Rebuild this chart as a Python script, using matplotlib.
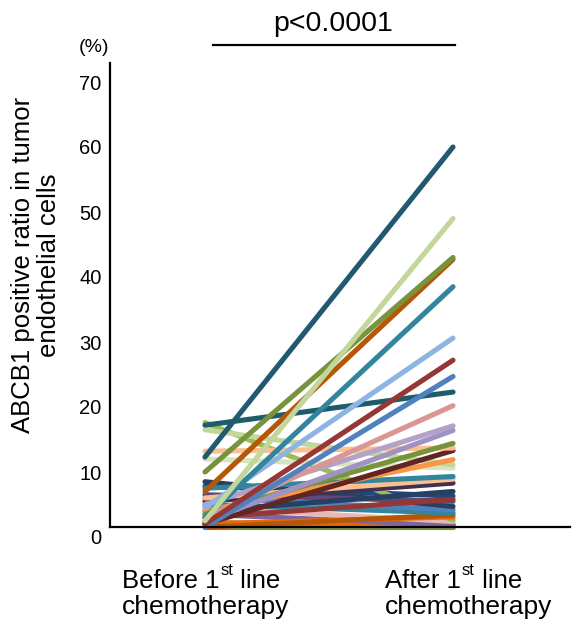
import matplotlib
matplotlib.use("Agg")
import matplotlib.pyplot as plt
from matplotlib.lines import Line2D

plt.rcParams['font.family'] = ['Liberation Sans', 'DejaVu Sans']

# Paired ABCB1 positive ratios (%) per patient
before = [1.5, 2.2, 1.6, 1.8, 4.8, 7.8, 3.5, 4.5, 17.6, 2.0, 1.5, 5.0,
          6.0, 8.5, 6.5, 3.0, 4.0, 5.5, 6.0, 7.5, 12.0, 16.5, 4.0, 2.0,
          13.2, 3.5, 2.5, 5.0, 3.0, 17.2, 1.5, 2.0, 4.5, 3.0, 7.0, 10.0,
          2.5, 12.3]
after = [1.5, 1.8, 2.8, 2.0, 4.0, 6.3, 1.8, 2.4, 2.6, 3.1, 3.4, 3.7,
         4.2, 4.7, 5.5, 5.8, 7.0, 8.3, 8.9, 9.3, 10.6, 11.1, 11.9, 13.3,
         13.7, 14.4, 16.4, 17.1, 20.2, 22.3, 24.7, 27.2, 30.6, 38.5, 42.7,
         43.0, 49.0, 60.0]
colors = ['#77933c', '#b65708', '#93cddd', '#e46c0a', '#e6b9b8', '#1f497d',
          '#8064a2', '#e6b9b8', '#9bbb59', '#e46c0a', '#b65708', '#31859c',
          '#4f81bd', '#254061', '#5f497a', '#953735', '#254061', '#403152',
          '#fac090', '#31859c', '#d7e4bd', '#c3d69b', '#f79646', '#632523',
          '#fac090', '#77933c', '#a092c4', '#b3a2c7', '#d99694', '#1f5c6b',
          '#4f81bd', '#953735', '#8eb4e3', '#31859c', '#b65708', '#77933c',
          '#c3d69b', '#215a6e']

group_names = ["Before", "After"]
group_second_line = "chemotherapy"
y_ticks = [0, 10, 20, 30, 40, 50, 60, 70]
p_text = "p<0.0001"

W, H = 573, 623
fig = plt.figure(figsize=(W / 100, H / 100), dpi=100)
ax = fig.add_axes([110 / W, 86 / H, 460 / W, 474.5 / H])

for b, a, c in zip(before, after, colors):
    ax.plot([0, 1], [b, a], color=c, lw=3.7, solid_capstyle='round', zorder=2)

ax.set_xlim((110 - 205) / 248, (570 - 205) / 248)
ax.set_ylim(0, 73)
for side in ('top', 'right'):
    ax.spines[side].set_visible(False)
ax.spines['bottom'].set_position(('data', 1.5))
ax.spines['left'].set_bounds(1.5, 73)
for side in ('left', 'bottom'):
    ax.spines[side].set_linewidth(1.6)
    ax.spines[side].set_zorder(3)
ax.set_xticks([])
ax.set_yticks(y_ticks)
ax.tick_params(axis='y', length=0, pad=6, labelsize=14.5)

# unit marker above the y axis
fig.text(94 / W, 1 - 48 / H, "(%)", fontsize=14, ha='center', va='center')

# y axis title
fig.text(36 / W, 1 - 265 / H, "ABCB1 positive ratio in tumor\nendothelial cells",
         rotation=90, ha='center', va='center', fontsize=18.5, linespacing=1.1)

# group labels under the axis, with a small raised ordinal suffix
renderer = fig.canvas.get_renderer()
for x_px, name in zip([122, 385], group_names):
    y1 = 1 - 588 / H
    t1 = fig.text(x_px / W, y1, f"{name} 1", ha='left', va='baseline', fontsize=18.5)
    bb = t1.get_window_extent(renderer)
    sup = fig.text((bb.x1 + 1) / W, y1 + 13 / H, "st", ha='left', va='baseline',
                   fontsize=12)
    bb2 = sup.get_window_extent(renderer)
    fig.text(bb2.x1 / W, y1, " line", ha='left', va='baseline', fontsize=18.5)
    fig.text(x_px / W, 1 - 614 / H, group_second_line, ha='left',
             va='baseline', fontsize=19)

# significance bracket
fig.add_artist(Line2D([213 / W, 455 / W], [1 - 45 / H, 1 - 45 / H],
                      color='black', lw=1.6, transform=fig.transFigure))
fig.text(333 / W, 1 - 24 / H, p_text, ha='center', va='center', fontsize=20.5)

fig.savefig("out.png", dpi=100)
